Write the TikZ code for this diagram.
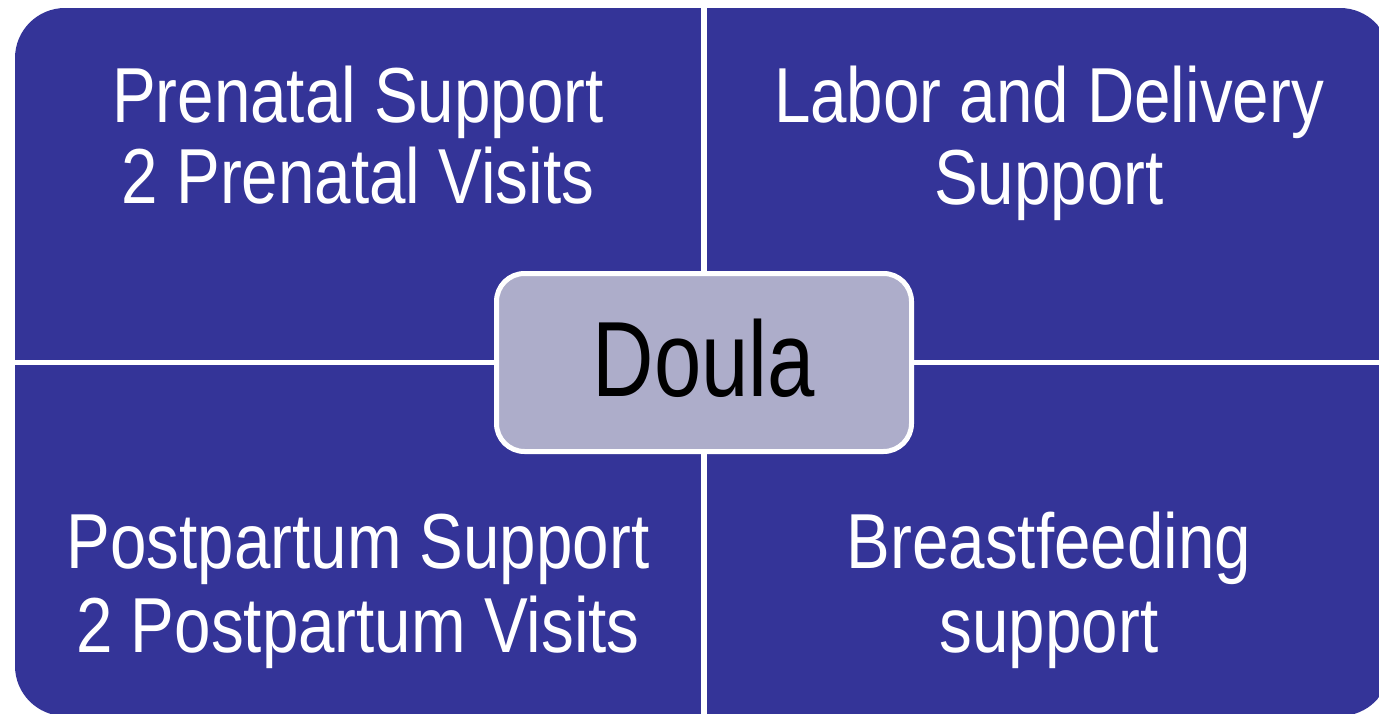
\documentclass[tikz,border=0pt]{standalone}
\usepackage{fontspec}
\setmainfont{Liberation Sans}
\newfontfamily\quadfont[FakeStretch=0.84]{Liberation Sans}
\newfontfamily\hubfont[FakeStretch=0.795]{Liberation Sans}
\definecolor{quadblue}{RGB}{52,52,152}
\definecolor{hubfill}{RGB}{173,173,202}
\begin{document}
\begin{tikzpicture}[x=1pt,y=-1pt,
  quad/.style={fill=quadblue},
  qtext/.style={anchor=base, text=white, inner sep=0pt,
    font=\quadfont\fontsize{78}{81}\selectfont},
  hub/.style={draw=white, line width=5pt, fill=hubfill, rounded corners=28pt,
    minimum width=415pt, minimum height=178pt, inner sep=0pt,
    text height=78pt, text depth=11pt, text=black,
    font=\hubfont\fontsize{107}{110}\selectfont}]
\useasboundingbox (0,0) rectangle (1379,714);
\clip (0,0) rectangle (1379,714);

% four quadrants, cut from one rounded panel
\begin{scope}
  \clip[rounded corners=50pt] (15,8) rectangle (1390,716);
  \fill[quad] (15,8)    rectangle (701,360);
  \fill[quad] (707,8)   rectangle (1390,360);
  \fill[quad] (15,365)  rectangle (701,716);
  \fill[quad] (707,365) rectangle (1390,716);
\end{scope}

% quadrant labels
\node[qtext] (pre1)  at (358,123)  {Prenatal Support};
\node[qtext] (pre2)  at (358,204)  {2 Prenatal Visits};
\node[qtext] (lab1)  at (1049,123) {Labor and Delivery};
\node[qtext] (lab2)  at (1049,205) {Support};
\node[qtext] (post1) at (358,568)  {Postpartum Support};
\node[qtext] (post2) at (358,652)  {2 Postpartum Visits};
\node[qtext] (bf1)   at (1049,568) {Breastfeeding};
\node[qtext] (bf2)   at (1049,652) {support};

% central hub
\node[hub] (hub) at (704,362.5) {Doula};
\end{tikzpicture}
\end{document}
